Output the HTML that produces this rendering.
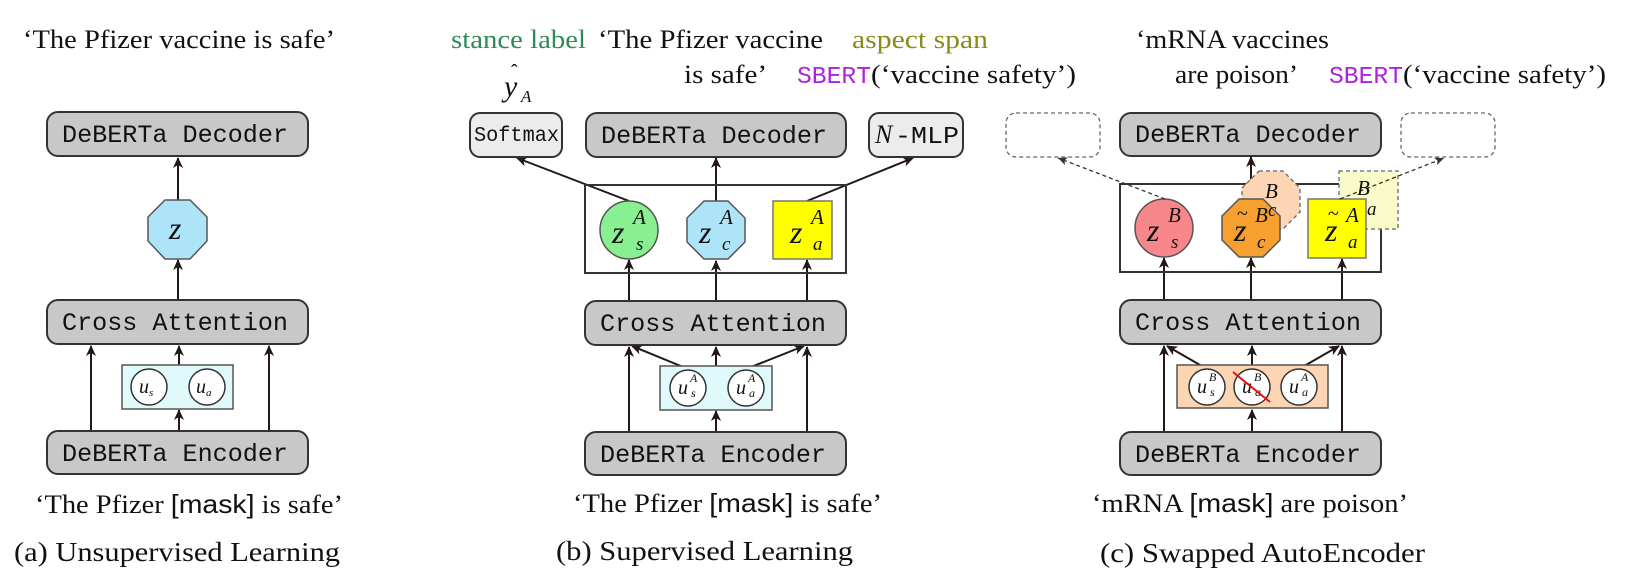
<!DOCTYPE html>
<html><head><meta charset="utf-8"><style>
html,body{margin:0;padding:0;background:#fff;}
svg{display:block;}
.ser{font-family:"Liberation Serif",serif;}
.mono{font-family:"Liberation Mono",monospace;}
.it{font-family:"Liberation Serif",serif;font-style:italic;}
</style></head><body>
<svg width="1635" height="583" viewBox="0 0 1635 583" xmlns="http://www.w3.org/2000/svg">
<defs>
<marker id="ar" markerWidth="12" markerHeight="10" refX="10" refY="5" orient="auto" markerUnits="userSpaceOnUse">
<path d="M0,0 L11,5 L0,10 L3,5 z" fill="#231815"/></marker>
<marker id="ard" markerWidth="10" markerHeight="8" refX="9" refY="4" orient="auto" markerUnits="userSpaceOnUse">
<path d="M0,0 L9,4 L0,8 L2,4 z" fill="#333"/></marker>
</defs>
<g stroke="#231815" stroke-width="2" fill="none">
<!-- ========== PANEL A ========== -->
<line x1="178" y1="200" x2="178" y2="158" marker-end="url(#ar)"/>
<line x1="178" y1="300" x2="178" y2="260" marker-end="url(#ar)"/>
<line x1="91" y1="431" x2="91" y2="346" marker-end="url(#ar)"/>
<line x1="269" y1="431" x2="269" y2="346" marker-end="url(#ar)"/>
<line x1="179" y1="431" x2="179" y2="410" marker-end="url(#ar)"/>
<line x1="179" y1="365" x2="179" y2="346" marker-end="url(#ar)"/>
<!-- ========== PANEL B ========== -->
<line x1="629" y1="301" x2="629" y2="260" marker-end="url(#ar)"/>
<line x1="716" y1="301" x2="716" y2="261" marker-end="url(#ar)"/>
<line x1="807" y1="301" x2="807" y2="260" marker-end="url(#ar)"/>
<line x1="629" y1="432" x2="629" y2="347" marker-end="url(#ar)"/>
<line x1="807" y1="432" x2="807" y2="347" marker-end="url(#ar)"/>
<line x1="716" y1="432" x2="716" y2="411" marker-end="url(#ar)"/>
<line x1="716" y1="366" x2="716" y2="347" marker-end="url(#ar)"/>
<line x1="688" y1="369" x2="632" y2="346" marker-end="url(#ar)"/>
<line x1="746" y1="369" x2="804" y2="346" marker-end="url(#ar)"/>
<line x1="629" y1="201" x2="517" y2="158" marker-end="url(#ar)"/>
<line x1="716" y1="201" x2="716" y2="158" marker-end="url(#ar)"/>
<line x1="807" y1="201" x2="913" y2="158" marker-end="url(#ar)"/>
<!-- ========== PANEL C ========== -->
<line x1="1251" y1="199" x2="1251" y2="157" marker-end="url(#ar)"/>
<line x1="1164" y1="300" x2="1164" y2="258" marker-end="url(#ar)"/>
<line x1="1251" y1="300" x2="1251" y2="258" marker-end="url(#ar)"/>
<line x1="1342" y1="300" x2="1342" y2="259" marker-end="url(#ar)"/>
<line x1="1164" y1="432" x2="1164" y2="346" marker-end="url(#ar)"/>
<line x1="1342" y1="432" x2="1342" y2="346" marker-end="url(#ar)"/>
<line x1="1252" y1="432" x2="1252" y2="410" marker-end="url(#ar)"/>
<line x1="1252" y1="366" x2="1252" y2="346" marker-end="url(#ar)"/>
<line x1="1207" y1="369" x2="1167" y2="346" marker-end="url(#ar)"/>
<line x1="1299" y1="369" x2="1339" y2="346" marker-end="url(#ar)"/>
</g>

<!-- boxes A -->
<g stroke="#333" stroke-width="2">
<rect x="47" y="112" width="261" height="44" rx="11" fill="#c8c8c8"/>
<rect x="47" y="300" width="261" height="44" rx="11" fill="#c8c8c8"/>
<rect x="47" y="431" width="261" height="43" rx="11" fill="#c8c8c8"/>
<polygon points="165,200 190,200 207,217 207,241 190,259 165,259 148,241 148,217" fill="#aee4f8" stroke-width="1.5" stroke="#555"/>
<rect x="122" y="365" width="111" height="44" fill="#e0fafc" stroke-width="1.5" stroke="#555"/>
<circle cx="149" cy="387" r="18" fill="#fff" stroke-width="1.5"/>
<circle cx="207" cy="387" r="18" fill="#fff" stroke-width="1.5"/>
</g>
<!-- boxes B -->
<g stroke="#333" stroke-width="2">
<rect x="470" y="113" width="92" height="44" rx="10" fill="#ececec"/>
<rect x="586" y="113" width="260" height="44" rx="11" fill="#c8c8c8"/>
<rect x="869" y="113" width="94" height="44" rx="10" fill="#ececec"/>
<rect x="585" y="185" width="261" height="88" fill="none"/>
<rect x="585" y="301" width="261" height="44" rx="11" fill="#c8c8c8"/>
<rect x="585" y="432" width="261" height="43" rx="11" fill="#c8c8c8"/>
<circle cx="629" cy="230" r="29" fill="#88f090" stroke-width="1.5" stroke="#555"/>
<polygon points="704,201 728,201 745,218 745,242 728,259 704,259 687,242 687,218" fill="#aee4f8" stroke-width="1.5" stroke="#555"/>
<rect x="773" y="201" width="59" height="58" fill="#ffff00" stroke-width="1.5" stroke="#777"/>
<rect x="660" y="366" width="112" height="44" fill="#e0fafc" stroke-width="1.5" stroke="#555"/>
<circle cx="688" cy="388" r="18" fill="#fff" stroke-width="1.5"/>
<circle cx="746" cy="388" r="18" fill="#fff" stroke-width="1.5"/>
</g>
<!-- boxes C -->
<g stroke="#333" stroke-width="2">
<rect x="1006" y="113" width="94" height="44" rx="10" fill="none" stroke="#666" stroke-width="1.3" stroke-dasharray="4,3"/>
<rect x="1401" y="113" width="94" height="44" rx="10" fill="none" stroke="#666" stroke-width="1.3" stroke-dasharray="4,3"/>
<rect x="1120" y="113" width="261" height="43" rx="11" fill="#c8c8c8"/>
<rect x="1120" y="184" width="261" height="88" fill="none"/>
<polygon points="1259,171 1283,171 1300,188 1300,212 1283,229 1259,229 1242,212 1242,188" fill="#fcd6b4" stroke="#666" stroke-width="1.3" stroke-dasharray="4,3"/>
<rect x="1339" y="171" width="59" height="58" fill="#f9fcc8" stroke="#666" stroke-width="1.3" stroke-dasharray="4,3"/>
<circle cx="1164" cy="228" r="29" fill="#f8878b" stroke-width="1.5" stroke="#555"/>
<polygon points="1239,199 1263,199 1280,216 1280,240 1263,257 1239,257 1222,240 1222,216" fill="#f7a030" stroke-width="1.5" stroke="#555"/>
<rect x="1308" y="199" width="58" height="59" fill="#ffff00" stroke-width="1.5" stroke="#777"/>
<rect x="1120" y="300" width="261" height="44" rx="11" fill="#c8c8c8"/>
<rect x="1120" y="432" width="261" height="43" rx="11" fill="#c8c8c8"/>
<rect x="1177" y="365" width="151" height="43" fill="#fcd6b4" stroke-width="1.5" stroke="#555"/>
<circle cx="1207" cy="387" r="18" fill="#fff" stroke-width="1.5"/>
<circle cx="1252" cy="387" r="18" fill="#fff" stroke-width="1.5"/>
<circle cx="1299" cy="387" r="18" fill="#fff" stroke-width="1.5"/>
</g>
<g stroke="#333" stroke-width="1.3" stroke-dasharray="4,3" fill="none">
<line x1="1165" y1="199" x2="1058" y2="158" marker-end="url(#ard)"/>
<line x1="1340" y1="199" x2="1444" y2="158" marker-end="url(#ard)"/>
</g>

<!-- text -->
<g fill="#111">
<text class="ser" x="23" y="48" font-size="26" textLength="312" lengthAdjust="spacingAndGlyphs">‘The Pfizer vaccine is safe’</text>
<text class="mono" x="62" y="142" font-size="25" textLength="226" lengthAdjust="spacingAndGlyphs">DeBERTa Decoder</text>
<text class="mono" x="62" y="330" font-size="25" textLength="226" lengthAdjust="spacingAndGlyphs">Cross Attention</text>
<text class="mono" x="62" y="461" font-size="25" textLength="226" lengthAdjust="spacingAndGlyphs">DeBERTa Encoder</text>
<text class="it" x="169" y="239" font-size="32">z</text>
<text class="it" x="139" y="393" font-size="20">u<tspan font-size="11" dy="3">s</tspan></text>
<text class="it" x="196" y="393" font-size="20">u<tspan font-size="11" dy="3">a</tspan></text>
<text class="ser" x="35" y="513" font-size="26" textLength="308" lengthAdjust="spacingAndGlyphs">‘The Pfizer <tspan font-family="Liberation Sans">[mask]</tspan> is safe’</text>
<text class="ser" x="14" y="561" font-size="27" textLength="326" lengthAdjust="spacingAndGlyphs">(a) Unsupervised Learning</text>

<!-- B text -->
<text class="ser" x="451" y="48" font-size="26" fill="#2e8b57" textLength="135" lengthAdjust="spacingAndGlyphs">stance label</text>
<text class="ser" x="598" y="48" font-size="26" textLength="225" lengthAdjust="spacingAndGlyphs">‘The Pfizer vaccine</text>
<text class="ser" x="852" y="48" font-size="26" fill="#8a8a18" textLength="136" lengthAdjust="spacingAndGlyphs">aspect span</text>
<text class="ser" x="684" y="83" font-size="26" textLength="83" lengthAdjust="spacingAndGlyphs">is safe’</text>
<text class="mono" x="797" y="83" font-size="24" fill="#b020e0" textLength="74" lengthAdjust="spacingAndGlyphs">SBERT</text>
<text class="ser" x="871" y="83" font-size="26" textLength="205" lengthAdjust="spacingAndGlyphs">(‘vaccine safety’)</text>
<text class="it" x="504" y="96" font-size="30">y</text>
<text class="ser" x="511" y="78" font-size="20">ˆ</text>
<text class="it" x="521" y="102" font-size="17">A</text>
<text class="mono" x="474" y="141" font-size="21" textLength="85" lengthAdjust="spacingAndGlyphs">Softmax</text>
<text class="mono" x="586" y="143" font-size="25" textLength="226" lengthAdjust="spacingAndGlyphs" transform="translate(15,0)">DeBERTa Decoder</text>
<text class="it" x="875" y="143" font-size="26">N</text>
<text class="mono" x="895" y="143" font-size="24" textLength="64" lengthAdjust="spacingAndGlyphs">-MLP</text>
<text class="mono" x="600" y="331" font-size="25" textLength="226" lengthAdjust="spacingAndGlyphs">Cross Attention</text>
<text class="mono" x="600" y="462" font-size="25" textLength="226" lengthAdjust="spacingAndGlyphs">DeBERTa Encoder</text>
<text class="it" x="612" y="243" font-size="32">z</text><text class="it" x="633" y="224" font-size="21">A</text><text class="it" x="636" y="250" font-size="19">s</text>
<text class="it" x="699" y="243" font-size="32">z</text><text class="it" x="720" y="224" font-size="21">A</text><text class="it" x="722" y="250" font-size="19">c</text>
<text class="it" x="790" y="243" font-size="32">z</text><text class="it" x="811" y="224" font-size="21">A</text><text class="it" x="813" y="250" font-size="19">a</text>
<text class="it" x="678" y="394" font-size="20">u</text><text class="it" x="690" y="382" font-size="12">A</text><text class="it" x="691" y="397" font-size="12">s</text>
<text class="it" x="736" y="394" font-size="20">u</text><text class="it" x="748" y="382" font-size="12">A</text><text class="it" x="749" y="397" font-size="12">a</text>
<text class="ser" x="573" y="512" font-size="26" textLength="309" lengthAdjust="spacingAndGlyphs">‘The Pfizer <tspan font-family="Liberation Sans">[mask]</tspan> is safe’</text>
<text class="ser" x="556" y="560" font-size="27" textLength="297" lengthAdjust="spacingAndGlyphs">(b) Supervised Learning</text>

<!-- C text -->
<text class="ser" x="1136" y="48" font-size="26" textLength="193" lengthAdjust="spacingAndGlyphs">‘mRNA vaccines</text>
<text class="ser" x="1175" y="83" font-size="26" textLength="123" lengthAdjust="spacingAndGlyphs">are poison’</text>
<text class="mono" x="1329" y="83" font-size="24" fill="#b020e0" textLength="74" lengthAdjust="spacingAndGlyphs">SBERT</text>
<text class="ser" x="1403" y="83" font-size="26" textLength="203" lengthAdjust="spacingAndGlyphs">(‘vaccine safety’)</text>
<text class="mono" x="1135" y="142" font-size="25" textLength="226" lengthAdjust="spacingAndGlyphs">DeBERTa Decoder</text>
<text class="mono" x="1135" y="330" font-size="25" textLength="226" lengthAdjust="spacingAndGlyphs">Cross Attention</text>
<text class="mono" x="1135" y="462" font-size="25" textLength="226" lengthAdjust="spacingAndGlyphs">DeBERTa Encoder</text>
<!-- ghost labels -->
<text class="it" x="1265" y="198" font-size="21">B</text><text class="it" x="1268" y="216" font-size="19">c</text>
<text class="it" x="1357" y="195" font-size="21">B</text><text class="it" x="1367" y="215" font-size="19">a</text>
<text class="it" x="1147" y="241" font-size="32">z</text><text class="it" x="1168" y="222" font-size="21">B</text><text class="it" x="1171" y="248" font-size="19">s</text>
<text class="it" x="1234" y="241" font-size="32">z</text><text class="ser" x="1237" y="220" font-size="20">~</text><text class="it" x="1255" y="222" font-size="21">B</text><text class="it" x="1257" y="248" font-size="19">c</text>
<text class="it" x="1325" y="241" font-size="32">z</text><text class="ser" x="1328" y="220" font-size="20">~</text><text class="it" x="1346" y="222" font-size="21">A</text><text class="it" x="1348" y="248" font-size="19">a</text>
<text class="it" x="1197" y="393" font-size="20">u</text><text class="it" x="1209" y="381" font-size="12">B</text><text class="it" x="1210" y="396" font-size="12">s</text>
<text class="it" x="1242" y="393" font-size="20">u</text><text class="it" x="1254" y="381" font-size="12">B</text><text class="it" x="1255" y="396" font-size="12">a</text>
<text class="it" x="1289" y="393" font-size="20">u</text><text class="it" x="1301" y="381" font-size="12">A</text><text class="it" x="1302" y="396" font-size="12">a</text>
<text class="ser" x="1092" y="512" font-size="26" textLength="316" lengthAdjust="spacingAndGlyphs">‘mRNA <tspan font-family="Liberation Sans">[mask]</tspan> are poison’</text>
<text class="ser" x="1100" y="562" font-size="27" textLength="325" lengthAdjust="spacingAndGlyphs">(c) Swapped AutoEncoder</text>
</g>
<line x1="1233" y1="372" x2="1270" y2="402" stroke="#e01010" stroke-width="2"/>
</svg>
</body></html>
